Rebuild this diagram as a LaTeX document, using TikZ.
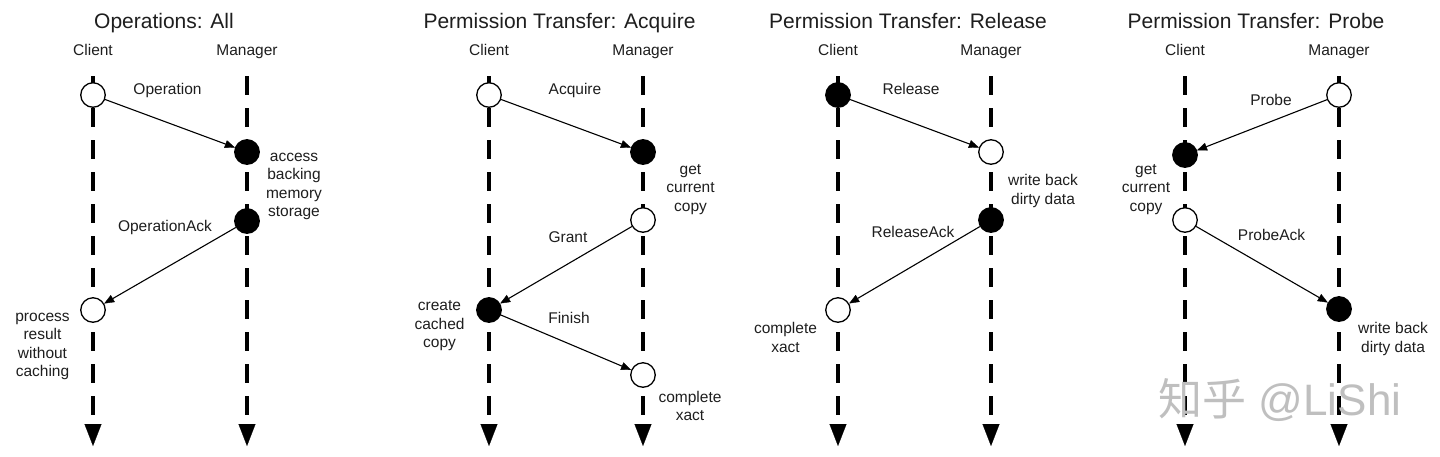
\documentclass[tikz,border=0pt]{standalone}
\usepackage{fontspec}
\setmainfont{Liberation Sans}
\newfontfamily\cjkfont{Noto Sans CJK SC}
\usetikzlibrary{arrows.meta}
\definecolor{txt}{HTML}{1E1E1E}
\tikzset{
  lifeline/.style={line width=4pt, dash pattern=on 19pt off 13pt,
    -{Triangle[width=17pt,length=22pt,line width=0.2pt]}},
  ev/.style={circle, draw, line width=1.3pt, minimum size=24.5pt, inner sep=0pt},
  openev/.style={ev, fill=white},
  fullev/.style={ev, fill=black},
  msg/.style={line width=1.1pt, -{Triangle[width=8pt,length=10pt,line width=0.4pt]}},
  lbl/.style={font=\fontsize{15.5}{18.5}\selectfont, text=txt, align=center, anchor=base, inner sep=0pt},
  ttl/.style={font=\fontsize{21}{24}\selectfont, text=txt, anchor=base, inner sep=0pt},
}
\begin{document}
\begin{tikzpicture}[x=1pt,y=-1pt]
\useasboundingbox[fill=white] (0,0) rectangle (1440,456);

% ---------- lifeline coordinates ----------
\foreach \n/\x in {ac/93,am/247,bc/489,bm/643,cc/838,cm/991,dc/1185,dm/1339}{
  \coordinate (\n t) at (\x,76);
  \coordinate (\n b) at (\x,446);
}
\foreach \n in {ac,am,bc,bm,cc,cm,dc,dm}{
  \draw[lifeline] (\n t) -- (\n b);
}

% ---------- titles and headers ----------
\node[ttl] (t1) at (164,28) {Operations: All};
\node[ttl] (t2) at (559.5,28) {Permission Transfer: Acquire};
\node[ttl] (t3) at (908,28) {Permission Transfer: Release};
\node[ttl] (t4) at (1256,28) {Permission Transfer: Probe};
\node[lbl] (h1c) at (93,55) {Client};
\node[lbl] (h1m) at (247,55) {Manager};
\node[lbl] (h2c) at (489,55) {Client};
\node[lbl] (h2m) at (643,55) {Manager};
\node[lbl] (h3c) at (838,55) {Client};
\node[lbl] (h3m) at (991,55) {Manager};
\node[lbl] (h4c) at (1185,55) {Client};
\node[lbl] (h4m) at (1339,55) {Manager};

% ---------- panel 1: Operations: All ----------
\node[openev] (a1) at (93,95) {};
\node[fullev] (a2) at (247,152) {};
\node[fullev] (a3) at (247,221) {};
\node[openev] (a4) at (93,310) {};
\draw[msg] (a1) -- (a2);
\draw[msg] (a3) -- (a4);
\node[lbl] (la1) at (167.5,94) {Operation};
\node[lbl] (la2) at (294,216.5) {access\\backing\\memory\\storage};
\node[lbl] (la3) at (165,231.5) {OperationAck};
\node[lbl] (la4) at (42.5,376.5) {process\\result\\without\\caching};

% ---------- panel 2: Acquire ----------
\node[openev] (b1) at (489,95) {};
\node[fullev] (b2) at (643,152) {};
\node[openev] (b3) at (643,220) {};
\node[fullev] (b4) at (489,310) {};
\node[openev] (b5) at (643,375) {};
\draw[msg] (b1) -- (b2);
\draw[msg] (b3) -- (b4);
\draw[msg] (b4) -- (b5);
\node[lbl] (lb1) at (575,94) {Acquire};
\node[lbl] (lb2) at (690.5,211) {get\\current\\copy};
\node[lbl] (lb3) at (568,242) {Grant};
\node[lbl] (lb4) at (439.5,347.5) {create\\cached\\copy};
\node[lbl] (lb5) at (569,323.5) {Finish};
\node[lbl] (lb6) at (690,420.5) {complete\\xact};

% ---------- panel 3: Release ----------
\node[fullev] (c1) at (838,95) {};
\node[openev] (c2) at (991,152) {};
\node[fullev] (c3) at (991,220) {};
\node[openev] (c4) at (838,310) {};
\draw[msg] (c1) -- (c2);
\draw[msg] (c3) -- (c4);
\node[lbl] (lc1) at (911,94) {Release};
\node[lbl] (lc2) at (1043,204) {write back\\dirty data};
\node[lbl] (lc3) at (913,237) {ReleaseAck};
\node[lbl] (lc4) at (785.5,352) {complete\\xact};

% ---------- panel 4: Probe ----------
\node[openev] (d1) at (1339,95) {};
\node[fullev] (d2) at (1185,155) {};
\node[openev] (d3) at (1185,220) {};
\node[fullev] (d4) at (1339,309) {};
\draw[msg] (d1) -- (d2);
\draw[msg] (d3) -- (d4);
\node[lbl] (ld1) at (1271,105) {Probe};
\node[lbl] (ld2) at (1146,211) {get\\current\\copy};
\node[lbl] (ld3) at (1271.5,240.5) {ProbeAck};
\node[lbl] (ld4) at (1393,352) {write back\\dirty data};

% ---------- watermark ----------
\node[anchor=base, inner sep=0pt, text=black!25, font=\fontsize{44}{46}\selectfont] (wm) at (1280,415) {{\cjkfont 知乎} @LiShi};
\end{tikzpicture}
\end{document}
